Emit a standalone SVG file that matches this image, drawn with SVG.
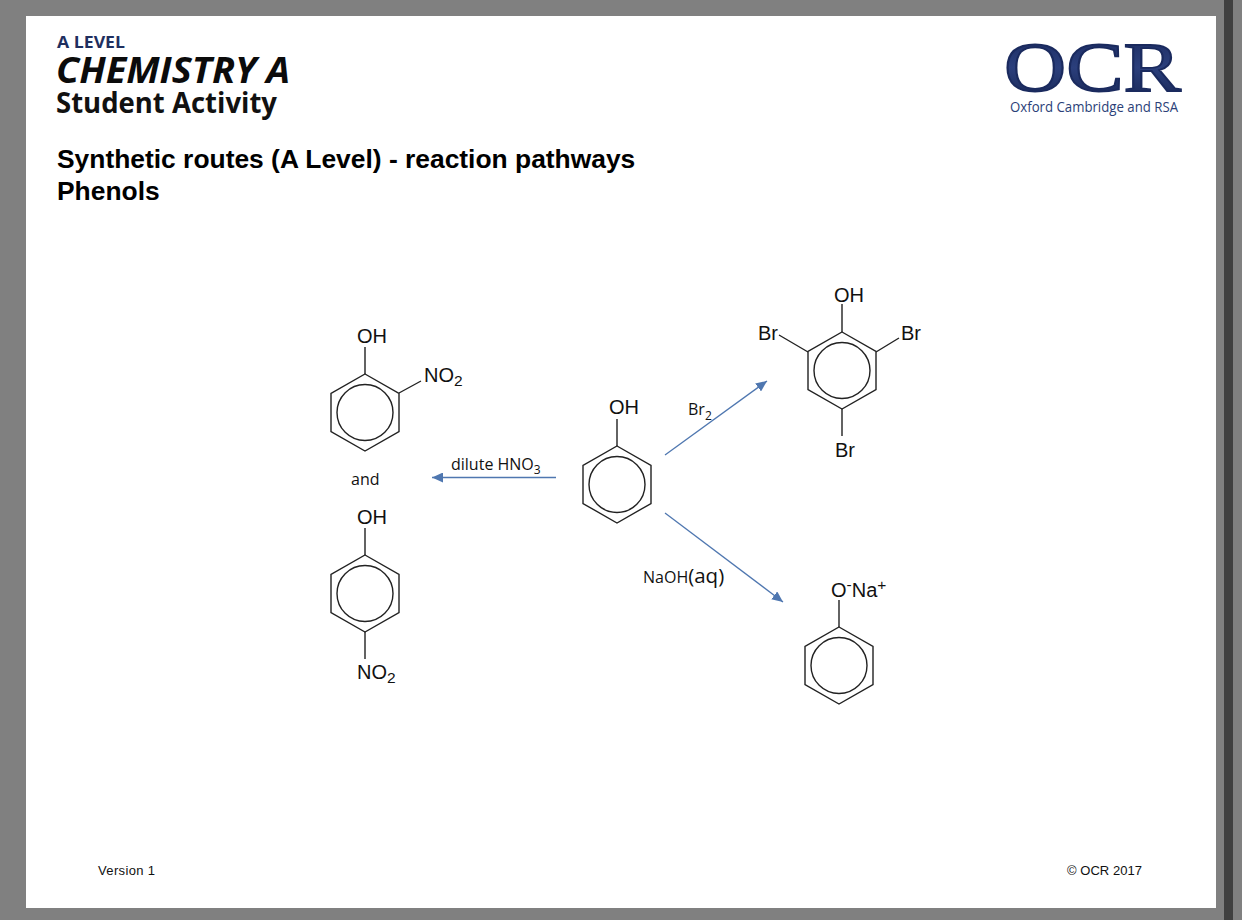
<svg xmlns="http://www.w3.org/2000/svg" xmlns:xlink="http://www.w3.org/1999/xlink" width="1242" height="920" viewBox="0 0 1242 920">
<style>
.bond{stroke:#222;stroke-width:1.4;fill:none}
.chem{font-family:"Liberation Sans",Arial,sans-serif;font-size:20px;fill:#111}
.sub{font-size:15.500px}
.lab{font-family:"Open Sans","Liberation Sans",sans-serif;font-size:16px;fill:#111}
.arrow{stroke:#4f77b0;stroke-width:1.3;fill:none;marker-end:url(#ah)}
.title{font-family:"Liberation Sans",Arial,sans-serif;font-size:26.400px;font-weight:bold;fill:#000}
.foot{font-family:"Liberation Sans",Arial,sans-serif;font-size:13px;fill:#111}
.hd{font-family:"Open Sans","Liberation Sans",sans-serif;font-weight:bold}
</style>
<defs>
<marker id="ah" markerUnits="userSpaceOnUse" markerWidth="12" markerHeight="10" refX="11" refY="5" orient="auto"><path d="M0 0L11 5L0 10z" fill="#4f77b0"/></marker>
<g id="ring"><path class="bond" d="M0-38.5L34 -19V19L0 38.5L-34 19V-19z"/><circle class="bond" r="28"/></g>
<linearGradient id="ocr" x1="0" y1="0" x2="0" y2="1"><stop offset="0" stop-color="#1a2a5e"/><stop offset="0.5" stop-color="#2b3f7c"/><stop offset="1" stop-color="#15234f"/></linearGradient>
</defs>
<rect width="1242" height="920" fill="#808080"/>
<rect x="1224" y="0" width="9" height="920" fill="#404040"/>
<rect x="26" y="16" width="1190" height="892" fill="#fff"/>

<g id="header">
<text class="hd" x="57" y="48" font-size="16.500" fill="#1f2f5f" textLength="68" lengthAdjust="spacingAndGlyphs">A LEVEL</text>
<text class="hd" x="56" y="83" font-size="36" font-style="italic" fill="#0b0b0b" textLength="234" lengthAdjust="spacingAndGlyphs">CHEMISTRY A</text>
<text class="hd" x="56" y="113" font-size="29" fill="#111" textLength="221" lengthAdjust="spacingAndGlyphs">Student Activity</text>
</g>
<g id="logo">
<text x="1004" y="91" font-family="Liberation Serif,serif" font-size="70" fill="url(#ocr)" stroke="#1a2a5e" stroke-width="1.800" textLength="177" lengthAdjust="spacingAndGlyphs">OCR</text>
<text x="1010" y="112" font-family="Open Sans,Liberation Sans,sans-serif" font-size="14.500" fill="#2b3f78" textLength="168" lengthAdjust="spacingAndGlyphs">Oxford Cambridge and RSA</text>
</g>
<g id="title">
<text class="title" x="57" y="168">Synthetic routes (A Level) - reaction pathways</text>
<text class="title" x="57" y="200">Phenols</text>
</g>

<g id="connectors">
<path class="arrow" d="M556 477.500H432"/>
<path class="arrow" d="M665 455L767 381"/>
<path class="arrow" d="M665 513L783 602"/>
</g>
<g id="labels">
<text class="lab" x="451" y="470">dilute HNO<tspan font-size="12" dy="4">3</tspan></text>
<text class="lab" x="688" y="415">Br<tspan font-size="12" dy="5">2</tspan></text>
<text class="lab" x="643" y="583">NaOH<tspan font-size="20.500" font-family="Open Sans,Liberation Sans,sans-serif">(aq)</tspan></text>
<text class="lab" x="351" y="485">and</text>
</g>

<g id="phenol">
<use href="#ring" xlink:href="#ring" x="617" y="484.500"/>
<path class="bond" d="M617 446V419"/>
<text class="chem" x="609" y="414">OH</text>
</g>
<g id="nitrophenol-2">
<use href="#ring" xlink:href="#ring" x="365" y="412.500"/>
<path class="bond" d="M365 374V347M399 393L421 381"/>
<text class="chem" x="357" y="343">OH</text>
<text class="chem" x="424" y="382">NO<tspan class="sub" dy="4">2</tspan></text>
</g>
<g id="nitrophenol-4">
<use href="#ring" xlink:href="#ring" x="365" y="593.500"/>
<path class="bond" d="M365 555V528M365 632V659"/>
<text class="chem" x="357" y="524">OH</text>
<text class="chem" x="357" y="679">NO<tspan class="sub" dy="4">2</tspan></text>
</g>
<g id="tribromophenol">
<use href="#ring" xlink:href="#ring" x="842" y="370.500"/>
<path class="bond" d="M842 332V304M808 352L779 335M876 352L899 338M842 409V436"/>
<text class="chem" x="834" y="302">OH</text>
<text class="chem" x="758" y="340">Br</text>
<text class="chem" x="901" y="340">Br</text>
<text class="chem" x="835" y="457">Br</text>
</g>
<g id="phenoxide">
<use href="#ring" xlink:href="#ring" x="839" y="665.500"/>
<path class="bond" d="M839 627V600"/>
<text class="chem" x="831" y="597">O<tspan class="sub" dy="-7">-</tspan><tspan dy="7">Na</tspan><tspan class="sub" dy="-7">+</tspan></text>
</g>

<g id="footer">
<text class="foot" x="98" y="875" textLength="57">Version 1</text>
<text class="foot" x="1067" y="875" textLength="75">© OCR 2017</text>
</g>
</svg>
